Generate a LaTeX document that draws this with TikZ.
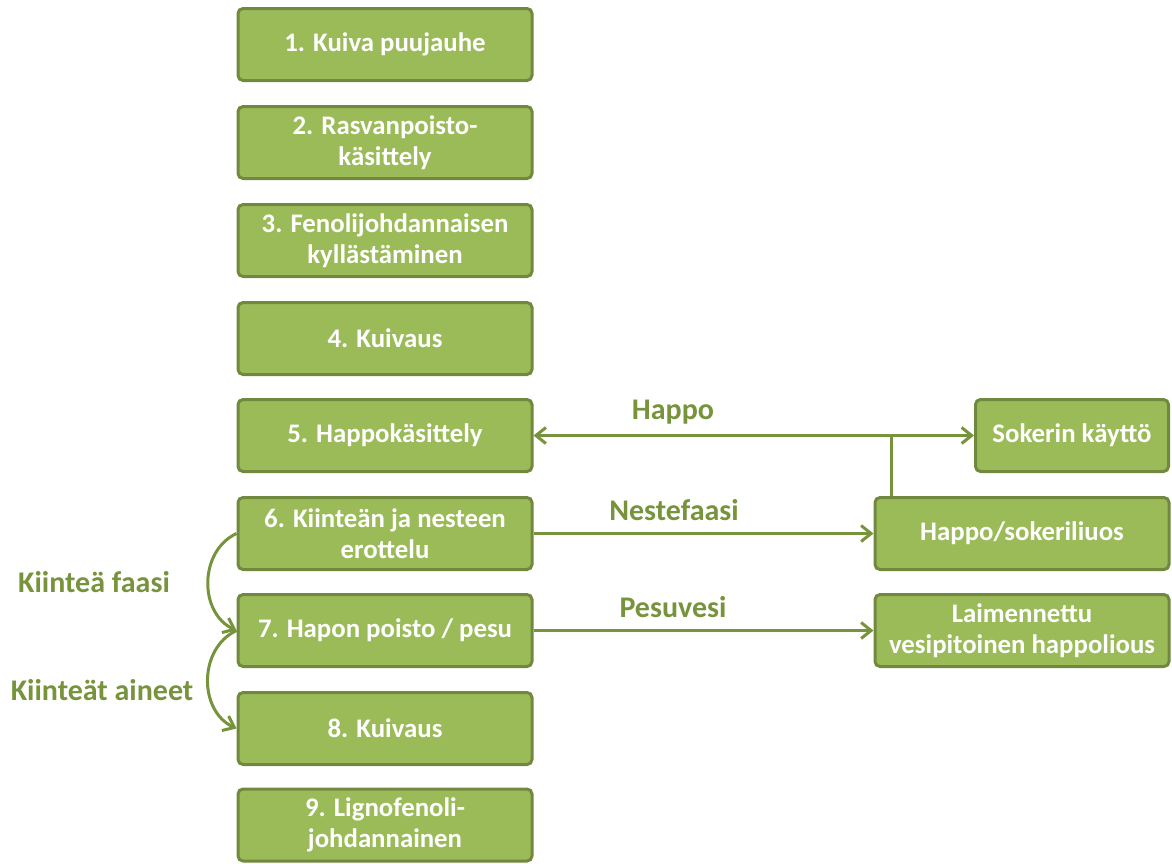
\documentclass[tikz,border=0pt]{standalone}
\usepackage{fontspec}
\setmainfont{Carlito}
\usetikzlibrary{arrows.meta}
\definecolor{boxfill}{HTML}{9BBB59}
\definecolor{boxline}{HTML}{71893F}
\definecolor{linkgreen}{HTML}{77933C}

\begin{document}
\begin{tikzpicture}[x=0.5pt, y=-0.5pt,
	every node/.style={font=\bfseries\fontsize{13.4}{15.2}\selectfont},
	box/.style={draw=boxline, fill=boxfill, line width=1.5pt, rounded corners=2.5pt, text=white, align=center, minimum width=147pt, minimum height=36pt, inner sep=0pt},
	lbl/.style={text=linkgreen, font=\bfseries\fontsize{15}{18}\selectfont},
	link/.style={draw=linkgreen, line width=1.5pt, -{Straight Barb[length=5pt, width=8pt]}}]
	\useasboundingbox (0,0) rectangle (1172,863);
	% process steps
	\node[box] (s1) at (385,44.5) {1. Kuiva puujauhe};
	\node[box] (s2) at (385,142.5) {2. Rasvanpoisto-\\käsittely};
	\node[box] (s3) at (385,240.5) {3. Fenolijohdannaisen\\kyllästäminen};
	\node[box] (s4) at (385,338.5) {4. Kuivaus};
	\node[box] (s5) at (385,435.5) {5. Happokäsittely};
	\node[box] (s6) at (385,533.5) {6. Kiinteän ja nesteen\\erottelu};
	\node[box] (s7) at (385,630.5) {7. Hapon poisto / pesu};
	\node[box] (s8) at (385,728.5) {8. Kuivaus};
	\node[box] (s9) at (385,825) {9. Lignofenoli-\\johdannainen};
	% side products
	\node[box, minimum width=96.5pt] (sok) at (1072,435.5) {Sokerin käyttö};
	\node[box] (liuos) at (1022,533.5) {Happo/sokeriliuos};
	\node[box] (laim) at (1022,630.5) {Laimennettu\\vesipitoinen happolious};
	% connectors
	\coordinate (haara) at (891,435.5);
	\draw[link, {Straight Barb[length=5pt, width=8pt]}-{Straight Barb[length=5pt, width=8pt]}] (s5.east) -- (sok.west);
	\draw[link, -] (liuos.north -| haara) -- (haara);
	\draw[link] (s6.east) -- (liuos.west);
	\draw[link] (s7.east) -- (laim.west);
	\draw[link] (s6.west) to[out=205, in=155, looseness=1.1] (s7.west);
	\draw[link] (s7.west) to[out=205, in=155, looseness=1.1] (s8.west);
	% labels
	\node[lbl] (lhappo) at (673,412) {Happo};
	\node[lbl] (lneste) at (674,510) {Nestefaasi};
	\node[lbl] (lpesu) at (673,607) {Pesuvesi};
	\node[lbl] (lkiintea) at (94,582) {Kiinteä faasi};
	\node[lbl] (laineet) at (102,690) {Kiinteät aineet};
\end{tikzpicture}
\end{document}
